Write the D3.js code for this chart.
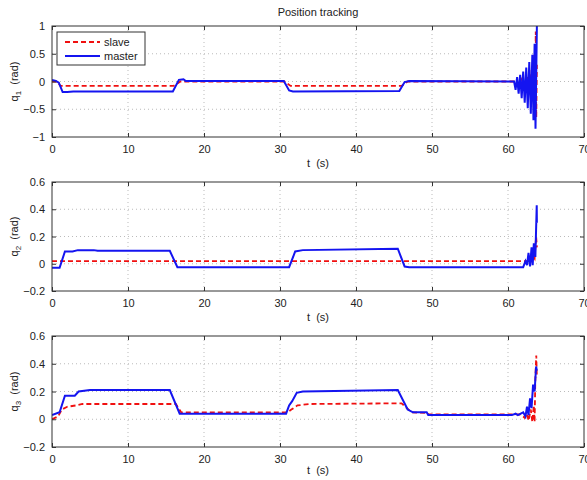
<!DOCTYPE html>
<html>
<head>
<meta charset="utf-8">
<script src="https://cdn.jsdelivr.net/npm/d3@7"></script>
<style>
  body { margin: 0; background: #fff; }
  text { font-family: "Liberation Sans", Arial, sans-serif; fill: #222; }
</style>
</head>
<body>
<script>
// Size of the drawing
let width = 587;
let height = 480;

// Shared x axis
var xTicks = [0, 10, 20, 30, 40, 50, 60, 70];

// Y ticks for each joint
var yTicks1 = [-1, -0.5, 0, 0.5, 1];
var yTicks23 = [-0.2, 0, 0.2, 0.4, 0.6];

// q1 joint, [t, rad]
var q1Slave = [[0, 0], [0.7, 0], [1.1, -0.08], [16, -0.08], [16.9, 0], [30.6, 0], [31.4, -0.08],
  [46, -0.08], [46.8, 0], [61, 0], [61.5, -0.05], [61.8, 0.04], [62.2, -0.1], [62.5, 0.08],
  [62.8, -0.2], [63.1, 0.2], [63.3, -0.35], [63.45, 0.5], [63.55, -0.55], [63.65, 0.9], [63.72, -0.65], [63.8, 0.3]];
var q1Master = [[0, 0.03], [0.5, 0.01], [0.9, -0.02], [1.4, -0.19], [2, -0.19], [2.8, -0.18], [15.9, -0.18],
  [16.7, 0.03], [17.3, 0.04], [17.6, 0.01], [30.5, 0.01], [31.2, -0.16], [31.7, -0.18], [45.7, -0.17],
  [46.4, -0.01], [47, 0.01], [60.8, 0.0], [61.0, -0.15], [61.2, 0.08], [61.4, -0.22], [61.6, 0.12],
  [61.8, -0.3], [62.0, 0.18], [62.2, -0.38], [62.4, 0.25], [62.6, -0.48], [62.8, 0.35], [63.0, -0.58],
  [63.2, 0.48], [63.35, -0.7], [63.5, 0.68], [63.62, -0.85], [63.8, 1.0]];

// q2 joint
var q2Slave = [[0, 0.02], [62.6, 0.02], [62.9, 0.03], [63.1, 0.02], [63.3, 0.06], [63.5, 0.04], [63.7, 0.2], [63.8, 0.12]];
var q2Master = [[0, -0.03], [1, -0.03], [1.7, 0.09], [2.7, 0.09], [3.4, 0.1], [5.5, 0.1], [6, 0.095],
  [15.5, 0.095], [16.5, -0.025], [31.2, -0.025], [32, 0.09], [33, 0.1], [45.5, 0.11], [46.4, -0.02],
  [47, -0.025], [62, -0.025], [62.3, 0.02], [62.5, -0.01], [62.7, 0.08], [62.9, -0.02], [63.1, 0.12],
  [63.25, -0.01], [63.4, 0.15], [63.6, 0.05], [63.78, 0.43], [63.8, 0.3]];

// q3 joint
var q3Slave = [[0, 0], [0.8, 0.02], [1.3, 0.07], [2, 0.09], [3.2, 0.1], [4, 0.11], [16.3, 0.11],
  [17, 0.05], [31, 0.05], [31.5, 0.07], [32.3, 0.1], [34, 0.11], [46, 0.115], [47.3, 0.05],
  [49.3, 0.045], [49.6, 0.035], [61.5, 0.035], [62, 0.02], [62.2, 0.01], [62.5, 0.04], [62.7, -0.01],
  [63, 0.07], [63.2, -0.02], [63.4, 0.1], [63.5, -0.02], [63.6, 0.3], [63.72, 0.46], [63.8, 0.3]];
var q3Master = [[0, 0.03], [1, 0.05], [1.7, 0.17], [3, 0.17], [3.5, 0.2], [5, 0.21], [15.5, 0.21],
  [16.8, 0.04], [30.8, 0.04], [31.2, 0.1], [31.6, 0.13], [32.2, 0.19], [33, 0.2], [45.5, 0.21],
  [46.8, 0.07], [47.5, 0.05], [49.3, 0.05], [49.5, 0.03], [60.5, 0.03], [61, 0.04], [61.3, 0.03],
  [62, 0.05], [62.3, 0.02], [62.5, 0.09], [62.7, 0.03], [62.9, 0.15], [63.1, 0.08], [63.3, 0.25],
  [63.5, 0.2], [63.7, 0.38], [63.8, 0.35]];

// Create SVG space
var svg = d3.select('body')
            .append('svg')
            .attr('width', width)
            .attr('height', height);

var left = 52;
var right = 584;

var x = d3.scaleLinear().domain([0, 70]).range([left, right]);

// Panel layout: top, bottom, domain, ticks, label subscript, series
var panels = [
  {top: 26, bottom: 137, domain: [-1, 1], ticks: yTicks1, sub: '1', slave: q1Slave, master: q1Master, tlabel: 167},
  {top: 182, bottom: 291, domain: [-0.2, 0.6], ticks: yTicks23, sub: '2', slave: q2Slave, master: q2Master, tlabel: 321},
  {top: 336, bottom: 447, domain: [-0.2, 0.6], ticks: yTicks23, sub: '3', slave: q3Slave, master: q3Master, tlabel: 474}
];

// Title
svg.append('text').attr('x', 318).attr('y', 16).attr('text-anchor', 'middle')
   .style('font-size', '11px').text('Position tracking');

panels.forEach(function(p, i) {
  var y = d3.scaleLinear().domain(p.domain).range([p.bottom, p.top]);
  var g = svg.append('g');

  // Dotted grid
  g.selectAll('.gx').data(xTicks.slice(1, -1)).enter().append('line')
   .attr('x1', d => x(d)).attr('x2', d => x(d)).attr('y1', p.top).attr('y2', p.bottom)
   .attr('stroke', '#aaa').attr('stroke-width', 0.8).attr('stroke-dasharray', '1,3');
  g.selectAll('.gy').data(p.ticks.slice(1, -1)).enter().append('line')
   .attr('x1', left).attr('x2', right).attr('y1', d => y(d)).attr('y2', d => y(d))
   .attr('stroke', '#aaa').attr('stroke-width', 0.8).attr('stroke-dasharray', '1,3');

  // Clip for the lines
  svg.append('clipPath').attr('id', 'clip' + i).append('rect')
     .attr('x', left).attr('y', p.top - 1).attr('width', right - left).attr('height', p.bottom - p.top + 2);

  var line = d3.line().x(d => x(d[0])).y(d => y(d[1]));

  g.append('path').datum(p.slave).attr('d', line).attr('clip-path', 'url(#clip' + i + ')')
   .attr('fill', 'none').attr('stroke', '#f01010').attr('stroke-width', 1.8).attr('stroke-dasharray', '5,3');
  g.append('path').datum(p.master).attr('d', line).attr('clip-path', 'url(#clip' + i + ')')
   .attr('fill', 'none').attr('stroke', '#1414f0').attr('stroke-width', 2);

  // Box
  g.append('rect').attr('x', left).attr('y', p.top).attr('width', right - left).attr('height', p.bottom - p.top)
   .attr('fill', 'none').attr('stroke', '#333').attr('stroke-width', 1);

  // Axes with inward ticks, mirrored
  g.append('g').attr('transform', 'translate(0,' + p.bottom + ')')
   .call(d3.axisBottom(x).tickValues(xTicks).tickSizeInner(-4).tickSizeOuter(0).tickPadding(8).tickFormat(d3.format('d')))
   .call(a => a.select('.domain').remove());
  g.append('g').attr('transform', 'translate(0,' + p.top + ')')
   .call(d3.axisTop(x).tickValues(xTicks).tickSizeInner(-4).tickSizeOuter(0).tickFormat(''))
   .call(a => a.select('.domain').remove());
  g.append('g').attr('transform', 'translate(' + left + ',0)')
   .call(d3.axisLeft(y).tickValues(p.ticks).tickSizeInner(-4).tickSizeOuter(0).tickPadding(7).tickFormat(d => d3.format('')(+d.toFixed(2))))
   .call(a => a.select('.domain').remove());
  g.append('g').attr('transform', 'translate(' + right + ',0)')
   .call(d3.axisRight(y).tickValues(p.ticks).tickSizeInner(-4).tickSizeOuter(0).tickFormat(''))
   .call(a => a.select('.domain').remove());

  g.selectAll('.tick line').attr('stroke', '#333');
  g.selectAll('.tick text').style('font-size', '11px').style('font-family', '"Liberation Sans", Arial, sans-serif').attr('fill', '#222');

  // x label
  svg.append('text').attr('x', 318).attr('y', p.tlabel).attr('text-anchor', 'middle')
     .style('font-size', '11px').attr('xml:space', 'preserve').text('t  (s)');

  // y label with subscript
  var yl = svg.append('text').attr('transform', 'translate(18,' + ((p.top + p.bottom) / 2) + ') rotate(-90)')
     .attr('text-anchor', 'middle').style('font-size', '11px');
  yl.append('tspan').text('q');
  yl.append('tspan').attr('dy', 3).style('font-size', '8px').text(p.sub);
  yl.append('tspan').attr('dy', -3).text('\u00a0 (rad)');
});

// Legend in the first panel
var lg = svg.append('g');
lg.append('rect').attr('x', 57).attr('y', 32).attr('width', 88).attr('height', 33)
  .attr('fill', '#fff').attr('stroke', '#333').attr('stroke-width', 1);
lg.append('line').attr('x1', 65).attr('x2', 100).attr('y1', 42).attr('y2', 42)
  .attr('stroke', '#f01010').attr('stroke-width', 1.8).attr('stroke-dasharray', '5,3');
lg.append('line').attr('x1', 65).attr('x2', 100).attr('y1', 56).attr('y2', 56)
  .attr('stroke', '#1414f0').attr('stroke-width', 2);
lg.append('text').attr('x', 104).attr('y', 46).style('font-size', '11px').text('slave');
lg.append('text').attr('x', 104).attr('y', 60).style('font-size', '11px').text('master');
</script>
</body>
</html>
